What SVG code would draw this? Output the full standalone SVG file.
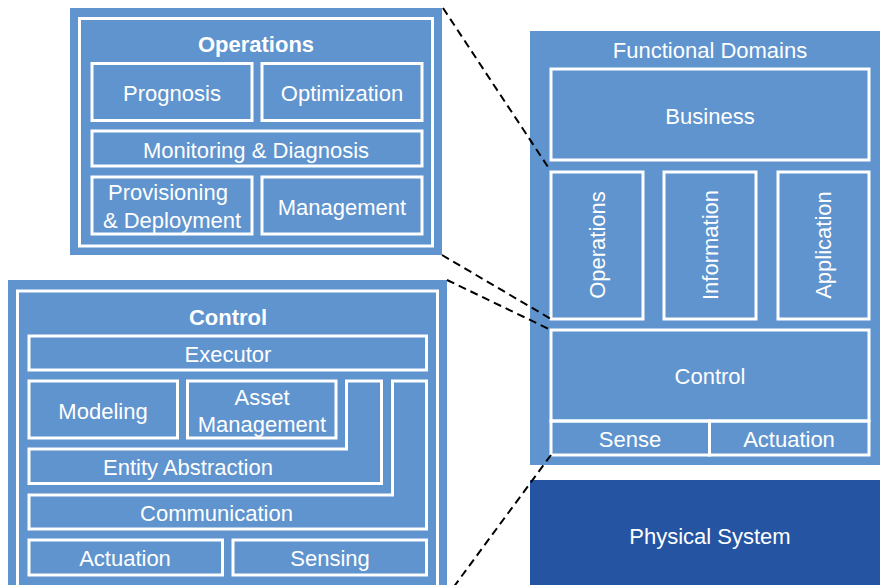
<svg xmlns="http://www.w3.org/2000/svg" width="880" height="585" viewBox="0 0 880 585">
<style>
.panel{fill:#5F94CE;}
.dark{fill:#2454A2;}
.box{fill:none;stroke:#FFFFFF;stroke-width:3;}
.t{font-family:"Liberation Sans",Arial,sans-serif;font-size:22px;fill:#FFFFFF;text-anchor:middle;dominant-baseline:central;}
.b{font-weight:bold;}
.dash{fill:none;stroke:#000000;stroke-width:2;stroke-dasharray:8 5;}
</style>
<rect x="0" y="0" width="880" height="585" fill="#FFFFFF"/>

<g id="functional-domains">
  <rect class="panel" x="530" y="31" width="352" height="434"/>
  <text class="t" x="710" y="50">Functional Domains</text>
</g>
<g id="business">
  <rect class="box" x="551" y="69" width="318" height="91"/>
  <text class="t" x="710" y="116">Business</text>
</g>
<g id="operations-domain">
  <rect class="box" x="551" y="172" width="92" height="147"/>
  <text class="t" transform="translate(597,245) rotate(-90)" x="0" y="0">Operations</text>
</g>
<g id="information-domain">
  <rect class="box" x="664" y="172" width="92" height="147"/>
  <text class="t" transform="translate(710,245) rotate(-90)" x="0" y="0">Information</text>
</g>
<g id="application-domain">
  <rect class="box" x="778" y="172" width="91" height="147"/>
  <text class="t" transform="translate(823.5,245) rotate(-90)" x="0" y="0">Application</text>
</g>
<g id="control-domain">
  <rect class="box" x="551" y="330" width="318" height="91"/>
  <text class="t" x="710" y="376">Control</text>
</g>
<g id="sense">
  <rect class="box" x="551" y="421" width="158.5" height="34"/>
  <text class="t" x="630" y="439">Sense</text>
</g>
<g id="actuation-domain">
  <rect class="box" x="709.5" y="421" width="159.5" height="34"/>
  <text class="t" x="789" y="439">Actuation</text>
</g>
<g id="physical-system">
  <rect class="dark" x="530" y="480" width="352" height="107"/>
  <text class="t" x="710" y="536">Physical System</text>
</g>

<g id="operations-panel">
  <rect class="panel" x="70" y="8" width="372" height="247"/>
  <rect class="box" x="79.5" y="18.5" width="353" height="227.5"/>
  <text class="t b" x="256" y="44.5">Operations</text>
</g>
<g id="prognosis">
  <rect class="box" x="92" y="63.5" width="160" height="57"/>
  <text class="t" x="172" y="93">Prognosis</text>
</g>
<g id="optimization">
  <rect class="box" x="262" y="63.5" width="160" height="57"/>
  <text class="t" x="342" y="93">Optimization</text>
</g>
<g id="monitoring">
  <rect class="box" x="92" y="131" width="330" height="35"/>
  <text class="t" x="256" y="150">Monitoring &amp; Diagnosis</text>
</g>
<g id="provisioning">
  <rect class="box" x="92" y="177" width="160" height="57"/>
  <text class="t" x="168" y="192.5">Provisioning</text>
  <text class="t" x="172" y="220">&amp; Deployment</text>
</g>
<g id="management">
  <rect class="box" x="262" y="177" width="160" height="57"/>
  <text class="t" x="342" y="207">Management</text>
</g>

<g id="control-panel">
  <rect class="panel" x="8" y="280" width="439" height="310"/>
  <rect class="box" x="17.5" y="291" width="420" height="300"/>
  <text class="t b" x="228" y="317">Control</text>
</g>
<g id="executor">
  <rect class="box" x="29" y="336" width="397.5" height="34"/>
  <text class="t" x="228" y="354">Executor</text>
</g>
<g id="modeling">
  <rect class="box" x="29" y="381" width="148.5" height="57"/>
  <text class="t" x="103" y="411">Modeling</text>
</g>
<g id="asset-management">
  <rect class="box" x="187.5" y="381" width="148.5" height="57"/>
  <text class="t" x="262" y="397">Asset</text>
  <text class="t" x="262" y="424">Management</text>
</g>
<g id="entity-abstraction">
  <polygon class="box" points="29,449 346.5,449 346.5,381 381.5,381 381.5,483.5 29,483.5"/>
  <text class="t" x="188" y="467">Entity Abstraction</text>
</g>
<g id="communication">
  <polygon class="box" points="29,495 392.5,495 392.5,381 426.5,381 426.5,529 29,529"/>
  <text class="t" x="216.5" y="513">Communication</text>
</g>
<g id="actuation">
  <rect class="box" x="29" y="540" width="193.5" height="35"/>
  <text class="t" x="125" y="558">Actuation</text>
</g>
<g id="sensing">
  <rect class="box" x="233" y="540" width="193.5" height="35"/>
  <text class="t" x="330" y="558">Sensing</text>
</g>

<g id="connectors">
  <line class="dash" x1="443" y1="8" x2="550" y2="170"/>
  <line class="dash" x1="442" y1="255" x2="551" y2="319"/>
  <line class="dash" x1="447" y1="280" x2="551" y2="330"/>
  <line class="dash" x1="551" y1="455" x2="447" y2="596"/>
</g>
</svg>
